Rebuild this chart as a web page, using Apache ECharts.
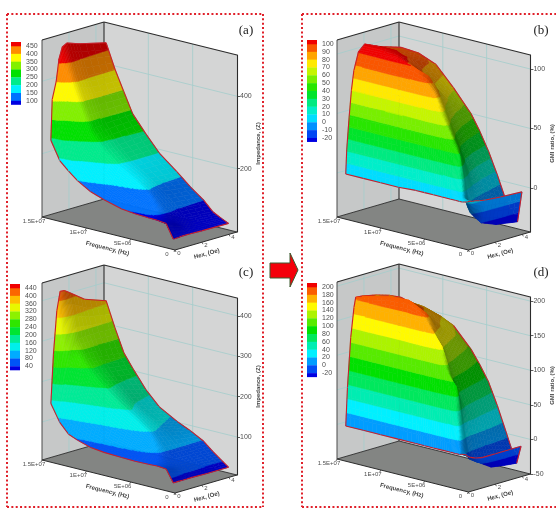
<!DOCTYPE html>
<html>
<head>
<meta charset="utf-8">
<style>html,body{margin:0;padding:0;background:#fff}#chart{width:556px;height:514px}</style>
<script src="https://cdn.jsdelivr.net/npm/echarts@6/dist/echarts.min.js"></script>
</head>
<body>
<div id="chart"></div>
<script>
// Frequency (Hz) and field (Oe) sampling of each measured surface
const freqAC = [1.4e7, 1.3e7, 1.2e7, 1.1e7, 9.5e6, 8e6, 6e6, 4.5e6, 3e6, 2e6, 1e6, 2e5];
const hexA = [0, 0.1, 0.4, 0.6, 0.85, 1.2, 2.1, 4.1];
const hexC = [0, 0.19, 0.44, 0.69, 1.0, 1.4, 2.5, 4.1];
const freqB = [1.4e7, 1.2e7, 1e7, 8e6, 6e6, 5e6, 4e6, 3e6, 2e6, 1.5e6, 1e6, 7e5, 2e5];
const hexB = [0, 0.07, 0.25, 0.42, 0.6, 0.94, 1.4, 2.5, 4.1];
const freqD = [1.4e7, 1.2e7, 1e7, 8e6, 6e6, 5e6, 4e6, 3e6, 2e6, 1.5e6, 1e6, 8e5, 3e5];
const hexD = [0, 0.126, 0.37, 0.61, 0.74, 1.2, 2.2, 3.2, 4.1];

// Impedance (a), one row per frequency
const zA = [
  [243, 355, 402, 461, 492, 499, 487, 468],
  [193, 265, 310, 350, 395, 418, 405, 401],
  [170, 215, 260, 295, 330, 350, 348, 345],
  [150, 170, 205, 230, 262, 281, 285, 290],
  [128, 136, 165, 185, 210, 229, 235, 243],
  [115, 122, 140, 155, 178, 194, 198, 200],
  [102, 108, 122, 135, 155, 168, 165, 160],
  [98, 102, 112, 122, 137, 147, 138, 128],
  [96, 98, 102, 105, 108, 110, 105, 100],
  [95, 95, 94, 93, 91, 88, 80, 75],
  [92, 90, 86, 82, 78, 72, 66, 62],
  [54, 54, 54, 55, 55, 55, 54, 53]
];
// GMI ratio (b)
const zB = [
  [1, 21, 48, 70, 86, 100.6, 105.6, 100, 94],
  [1, 21, 48, 70, 87, 101, 106, 100, 93],
  [1, 21, 49, 71, 88, 102, 104, 96, 87],
  [1, 21, 49, 71, 87, 100, 96, 82, 71],
  [2, 21, 49, 70, 86, 95, 84, 68, 53],
  [2, 21, 48, 69, 83, 85, 72, 55, 40],
  [2, 21, 47, 66, 72, 68, 56, 40, 25],
  [2, 20, 45, 56, 58, 50, 38, 22, 7],
  [2, 19, 43, 46, 42, 32, 18, 2, -13],
  [2, 18, 40, 36, 30, 18, 4, -11, -20],
  [2, 14, 20, 12, 5, -3, -12, -20, -26],
  [2, 6, 2, -4, -9, -14, -20, -25, -28],
  [3, 3, 3, 2, 2, 1, 0, -1, -2]
];
// Impedance (c)
const zC = [
  [151, 271, 376, 422, 421, 412, 385, 366],
  [110, 150, 200, 250, 285, 303, 305, 304],
  [86, 120, 160, 200, 240, 260, 255, 248],
  [77, 105, 140, 170, 205, 228, 222, 215],
  [67, 90, 115, 145, 178, 200, 186, 170],
  [63, 82, 105, 128, 155, 175, 155, 136],
  [61, 75, 92, 110, 130, 144, 128, 111],
  [60, 70, 82, 95, 110, 120, 108, 96],
  [61, 65, 70, 74, 78, 78, 78, 78],
  [62, 62, 62, 62, 61, 60, 59, 59],
  [60, 58, 55, 52, 50, 48, 44, 42],
  [30, 30, 30, 30, 30, 30, 29, 29]
];
// GMI ratio (d)
const zD = [
  [1, 56, 127, 169, 183, 182, 178, 172, 164],
  [1, 56, 127, 172, 190, 188, 178, 170, 156],
  [1, 56, 128, 174, 196, 192, 180, 168, 152],
  [1, 56, 128, 174, 198, 190, 175, 160, 142],
  [1, 56, 127, 172, 186, 172, 152, 135, 114],
  [1, 56, 126, 162, 160, 150, 130, 112, 95],
  [1, 55, 125, 145, 138, 125, 105, 88, 73],
  [1, 54, 110, 108, 100, 88, 70, 55, 42],
  [1, 52, 95, 78, 68, 50, 32, 18, 7],
  [1, 40, 45, 30, 22, 10, 0, -6, -11],
  [1, 12, 2, -6, -10, -16, -22, -25, -27],
  [2, 1, 0, -3, -7, -16, -29, -32, -34],
  [3, 0, -3, -5, -6, -8, -8, -8, -8]
];

// Contour levels / colour-bar labels
const levelsA = [450, 400, 350, 300, 250, 200, 150, 100];
const levelsB = [100, 90, 80, 70, 60, 50, 40, 30, 20, 10, 0, -10, -20];
const levelsC = [440, 400, 360, 320, 280, 240, 200, 160, 120, 80, 40];
const levelsD = [200, 180, 160, 140, 120, 100, 80, 60, 40, 20, 0, -20];

// Axis ticks
const ticksA = [200, 400];
const ticksB = [0, 50, 100];
const ticksC = [100, 200, 300, 400];
const ticksD = [-50, 0, 50, 100, 150, 200];
const freqTicks = [1.5e7, 1e7, 5e6, 0];
const freqTickLabels = ['1.5E+07', '1E+07', '5E+06', '0'];
const hexTicks = [0, 2, 4];

const FREQ_MAX = 1.5e7, HEX_MAX = 4.6;
// Box geometry in pixels: oblique axes of the 3D frame
const BOX = { fx: 133, fy: 33, hx: 62, hy: -18, h: 177 };

const panels = [
  { tag: '(a)', ox: 42, oy: 217, freq: freqAC, hex: hexA, z: zA, levels: levelsA, ticks: ticksA, min: 25, max: 514,
    name: 'Impedance, (Z)', barX: 11, barY: 42, letterY: 31 },
  { tag: '(b)', ox: 337, oy: 217, freq: freqB, hex: hexB, z: zB, levels: levelsB, ticks: ticksB, min: -37, max: 111.8,
    name: 'GMI ratio, (%)', barX: 307, barY: 40, letterY: 31 },
  { tag: '(c)', ox: 42, oy: 460, freq: freqAC, hex: hexC, z: zC, levels: levelsC, ticks: ticksC, min: 6, max: 444,
    name: 'Impedance, (Z)', barX: 10, barY: 284, letterY: 273 },
  { tag: '(d)', ox: 337, oy: 459, freq: freqD, hex: hexD, z: zD, levels: levelsD, ticks: ticksD, min: -50, max: 206,
    name: 'GMI ratio, (%)', barX: 307, barY: 283, letterY: 273 }
];

const RAINBOW = [[0,0,225],[0,115,255],[0,240,255],[0,235,140],[0,225,0],[130,240,0],[255,250,0],[255,140,0],[240,0,0]];
function bandColor(t) {
  const s = Math.max(0, Math.min(1, t)) * (RAINBOW.length - 1);
  const i = Math.min(RAINBOW.length - 2, Math.floor(s)), a = s - i;
  return RAINBOW[i].map((c, k) => c + (RAINBOW[i + 1][k] - c) * a);
}
const css = (c, s) => 'rgb(' + c.map(v => Math.round(v * s)).join(',') + ')';

// Maps (frequency, field, value) to the page through the panel's cartesian axes
function project(api, f, h, z) {
  const c = api.coord([f, z]);
  const u = 1 - f / FREQ_MAX, v = h / HEX_MAX;
  return [c[0] + v * BOX.hx, c[1] + u * BOX.fy + v * BOX.hy - (BOX.fy + BOX.hy)];
}

// Vertex normals of a panel's surface in box pixels
function buildNormals(p) {
  const k = BOX.h / (p.max - p.min), n = [];
  const X = i => (1 - p.freq[i] / FREQ_MAX) * 137, Y = j => p.hex[j] / HEX_MAX * 65;
  for (let i = 0; i < p.freq.length; i++) {
    n.push([]);
    for (let j = 0; j < p.hex.length; j++) {
      const i0 = Math.max(0, i - 1), i1 = Math.min(p.freq.length - 1, i + 1);
      const j0 = Math.max(0, j - 1), j1 = Math.min(p.hex.length - 1, j + 1);
      const a = -(p.z[i1][j] - p.z[i0][j]) * k / (X(i1) - X(i0));
      const b = -(p.z[i][j1] - p.z[i][j0]) * k / (Y(j1) - Y(j0));
      const l = Math.hypot(a, b, 1);
      n[i].push([a / l, b / l, 1 / l]);
    }
  }
  return n;
}

const LIGHT = (() => { const v = [-0.10, -0.90, 0.40], l = Math.hypot(...v); return v.map(c => c / l); })();
function shadeOf(n) {
  const d = n[0] * LIGHT[0] + n[1] * LIGHT[1] + n[2] * LIGHT[2];
  return Math.max(0.48, Math.min(1, 0.74 + 0.45 * d));
}

function clipBelow(poly, lim, keepAbove) {
  const out = [];
  for (let i = 0; i < poly.length; i++) {
    const a = poly[i], b = poly[(i + 1) % poly.length];
    const ia = keepAbove ? a.z >= lim : a.z <= lim, ib = keepAbove ? b.z >= lim : b.z <= lim;
    if (ia) out.push(a);
    if (ia !== ib) {
      const t = (lim - a.z) / (b.z - a.z);
      out.push({ x: a.x + (b.x - a.x) * t, y: a.y + (b.y - a.y) * t, z: lim });
    }
  }
  return out;
}

const SUB = 4;
function surfaceRenderer(p) {
  const normals = buildNormals(p);
  const asc = p.levels.slice().sort((a, b) => a - b);
  const colors = [];
  for (let b = 0; b <= asc.length; b++) colors.push(bandColor(b / asc.length));
  const bounds = [-Infinity, ...asc, Infinity];
  return function (params, api) {
    const i = api.value(0), j = api.value(1), kids = [];
    const F = p.freq, H = p.hex, Z = p.z;
    const vert = (s, t) => {
      const f = F[i] + (F[i + 1] - F[i]) * s, h = H[j] + (H[j + 1] - H[j]) * t;
      const z = (Z[i][j] * (1 - s) + Z[i + 1][j] * s) * (1 - t) + (Z[i][j + 1] * (1 - s) + Z[i + 1][j + 1] * s) * t;
      const q = project(api, f, h, z);
      return { x: q[0], y: q[1], z };
    };
    for (let a = 0; a < SUB; a++) {
      const sa = a / SUB, sb = (a + 1) / SUB;
      for (let b = SUB - 1; b >= 0; b--) {
        const ta = b / SUB, tb = (b + 1) / SUB;
        const sc = (sa + sb) / 2, tc = (ta + tb) / 2, nm = [0, 1, 2].map(c =>
          (normals[i][j][c] * (1 - sc) + normals[i + 1][j][c] * sc) * (1 - tc) +
          (normals[i][j + 1][c] * (1 - sc) + normals[i + 1][j + 1][c] * sc) * tc);
        const shade = shadeOf(nm);
        const quad = [vert(sa, ta), vert(sb, ta), vert(sb, tb), vert(sa, tb)];
        const zs = quad.map(q => q.z), lo = Math.min(...zs), hi = Math.max(...zs);
        for (let k = 0; k < colors.length; k++) {
          if (bounds[k + 1] < lo || bounds[k] > hi) continue;
          let poly = quad;
          if (bounds[k] > lo) poly = clipBelow(poly, bounds[k], true);
          if (bounds[k + 1] < hi) poly = clipBelow(poly, bounds[k + 1], false);
          if (poly.length < 3) continue;
          const fill = css(colors[k], shade);
          kids.push({ type: 'polygon', silent: true, shape: { points: poly.map(q => [q.x, q.y]) },
            style: { fill, stroke: fill, lineWidth: 0.5 } });
        }
      }
    }
    // Red boundary of the surface
    const edge = (a, b) => {
      const A = project(api, F[a[0]], H[a[1]], Z[a[0]][a[1]]), B = project(api, F[b[0]], H[b[1]], Z[b[0]][b[1]]);
      kids.push({ type: 'line', silent: true, shape: { x1: A[0], y1: A[1], x2: B[0], y2: B[1] },
        style: { stroke: '#c8202c', lineWidth: 1.1 } });
    };
    if (i === 0) edge([i, j], [i, j + 1]);
    if (i === F.length - 2) edge([i + 1, j], [i + 1, j + 1]);
    if (j === 0) edge([i, j], [i + 1, j]);
    if (j === H.length - 2) edge([i, j + 1], [i + 1, j + 1]);
    return { type: 'group', children: kids };
  };
}

function frameRenderer(p) {
  return function (params, api) {
    const kids = [];
    const P = (f, h, z) => project(api, f, h, z);
    const fMax = FREQ_MAX, hMax = HEX_MAX, lo = p.min, hi = p.max;
    const poly = (pts, fill) => kids.push({ type: 'polygon', silent: true, shape: { points: pts }, style: { fill } });
    const seg = (a, b, stroke, w) => kids.push({ type: 'line', silent: true,
      shape: { x1: a[0], y1: a[1], x2: b[0], y2: b[1] }, style: { stroke, lineWidth: w } });
    const label = (text, x, y, font, fill, rot, align) => kids.push({ type: 'text', silent: true, x, y, rotation: rot || 0,
      style: { text, x: 0, y: 0, font, fill, align: align || 'center', verticalAlign: 'middle' } });

    // Walls and floor
    poly([P(fMax, 0, lo), P(fMax, hMax, lo), P(fMax, hMax, hi), P(fMax, 0, hi)], '#c6c8c8');
    poly([P(fMax, hMax, lo), P(0, hMax, lo), P(0, hMax, hi), P(fMax, hMax, hi)], '#d4d5d5');
    poly([P(fMax, 0, lo), P(0, 0, lo), P(0, hMax, lo), P(fMax, hMax, lo)], '#838583');

    // Grid lines on the walls
    const grid = '#a3cdcb';
    p.ticks.forEach(t => {
      if (t <= lo || t >= hi) return;
      seg(P(fMax, 0, t), P(fMax, hMax, t), grid, 0.8);
      seg(P(fMax, hMax, t), P(0, hMax, t), grid, 0.8);
    });
    freqTicks.slice(1, 3).forEach(f => seg(P(f, hMax, lo), P(f, hMax, hi), grid, 0.8));
    hexTicks.slice(1).forEach(h => seg(P(fMax, h, lo), P(fMax, h, hi), grid, 0.8));

    // Box edges
    const edge = '#2b2b2b';
    seg(P(fMax, 0, lo), P(fMax, 0, hi), '#4a4a4a', 1);
    seg(P(fMax, hMax, lo), P(fMax, hMax, hi), '#3a3a3a', 1.2);
    seg(P(fMax, 0, hi), P(fMax, hMax, hi), edge, 1.1);
    seg(P(fMax, hMax, hi), P(0, hMax, hi), edge, 1.1);
    seg(P(fMax, 0, lo), P(0, 0, lo), edge, 1);
    seg(P(0, 0, lo), P(0, hMax, lo), edge, 1);
    seg(P(fMax, 0, lo), P(fMax, hMax, lo), edge, 0.9);
    seg(P(fMax, hMax, lo), P(0, hMax, lo), edge, 0.9);

    // Floor axis ticks and labels
    const tickFont = '6px "Liberation Sans"', nameFont = 'bold 6px "Liberation Sans"', grey = '#4f4f4f';
    freqTicks.forEach((f, i) => {
      const q = P(f, 0, lo);
      seg(q, [q[0] - 1, q[1] + 2], edge, 0.7);
      label(freqTickLabels[i], q[0] - 8, q[1] + 4.5, tickFont, grey);
    });
    hexTicks.forEach(h => {
      const q = P(0, h, lo);
      seg(q, [q[0] + 1, q[1] + 2], edge, 0.7);
      label(String(h), q[0] + 4, q[1] + 3, tickFont, grey);
    });
    const nameF = P(FREQ_MAX * 0.5, 0, lo), nameH = P(0, 2.1, lo);
    label('Frequency, (Hz)', nameF[0] - 1, nameF[1] + 15, nameFont, '#444', -14 * Math.PI / 180);
    label('Hex, (Oe)', nameH[0] + 3.5, nameH[1] + 12, nameFont, '#444', 15 * Math.PI / 180);

    // Colour bar: one block per band, labels on the band limits
    const step = 7.83, w = 10, cap = 4;
    const n = p.levels.length;
    p.levels.forEach((lv, i) => {
      const y = p.barY + cap + i * step;
      kids.push({ type: 'rect', silent: true, shape: { x: p.barX, y, width: w, height: i === n - 1 ? cap : step + 0.3 },
        style: { fill: css(bandColor((n - 1 - i) / n), 1) } });
      label(String(lv), p.barX + 15, y, '7px "Liberation Sans"', grey, 0, 'left');
    });
    kids.push({ type: 'rect', silent: true, shape: { x: p.barX, y: p.barY, width: w, height: cap + 0.3 },
      style: { fill: css(bandColor(1), 1) } });
    return { type: 'group', children: kids };
  };
}

const grids = [], xAxes = [], yAxes = [], series = [];
panels.forEach((p, idx) => {
  grids.push({ left: p.ox, top: p.oy + BOX.fy + BOX.hy - BOX.h, width: BOX.fx, height: BOX.h });
  xAxes.push({ gridIndex: idx, type: 'value', min: 0, max: FREQ_MAX, inverse: true, show: false });
  yAxes.push({
    gridIndex: idx, type: 'value', position: 'right', offset: BOX.hx, min: p.min, max: p.max, z: 5,
    splitLine: { show: false },
    axisLine: { show: true, onZero: false, lineStyle: { color: '#2b2b2b', width: 1.1 } },
    axisTick: { show: true, customValues: p.ticks, length: 3, inside: false, lineStyle: { color: '#333', width: 0.8 } },
    axisLabel: { customValues: p.ticks, color: '#4f4f4f', fontSize: 7, margin: 3, fontFamily: 'Liberation Sans' },
    name: p.name, nameLocation: 'middle', nameRotate: 90, nameGap: 15,
    nameTextStyle: { color: '#444', fontSize: 6, fontWeight: 'bold', fontFamily: 'Liberation Sans' }
  });
  series.push({ type: 'custom', xAxisIndex: idx, yAxisIndex: idx, z: 1, silent: true, clip: false,
    data: [[p.freq[0], p.z[0][0]]], renderItem: frameRenderer(p) });
  const cells = [];
  for (let i = 0; i < p.freq.length - 1; i++) {
    for (let j = p.hex.length - 2; j >= 0; j--) cells.push([i, j]);
  }
  series.push({ type: 'custom', xAxisIndex: idx, yAxisIndex: idx, z: 2, silent: true, clip: false,
    encode: { x: -1, y: -1 }, data: cells, renderItem: surfaceRenderer(p) });
});

// Dotted frames around each column, arrow between them, panel letters
const dots = { stroke: '#e0202a', lineWidth: 2, lineDash: [2, 2.35] };
const frameLine = (x1, y1, x2, y2) => ({ type: 'line', silent: true, shape: { x1, y1, x2, y2 }, style: dots });
const graphics = [
  frameLine(7, 14, 263, 14), frameLine(263, 14, 263, 507), frameLine(7, 14, 7, 507), frameLine(7, 507, 263, 507),
  frameLine(302, 14, 556, 14), frameLine(302, 14, 302, 507), frameLine(302, 507, 556, 507),
  { type: 'polygon', silent: true,
    shape: { points: [[270, 263], [290, 263], [290, 253], [298, 270], [290, 287], [290, 278], [270, 278]] },
    style: { fill: '#f4000a', stroke: '#3c5a30', lineWidth: 1 } }
];
panels.forEach(p => graphics.push({ type: 'text', silent: true, x: p.ox + 204, y: p.letterY,
  style: { text: p.tag, font: '13px "Liberation Serif"', fill: '#222', align: 'center', verticalAlign: 'middle' } }));

const chart = echarts.init(document.getElementById('chart'), null, { renderer: 'canvas' });
chart.setOption({
  animation: false,
  backgroundColor: '#ffffff',
  grid: grids,
  xAxis: xAxes,
  yAxis: yAxes,
  series,
  graphic: graphics
});
</script>
</body>
</html>
